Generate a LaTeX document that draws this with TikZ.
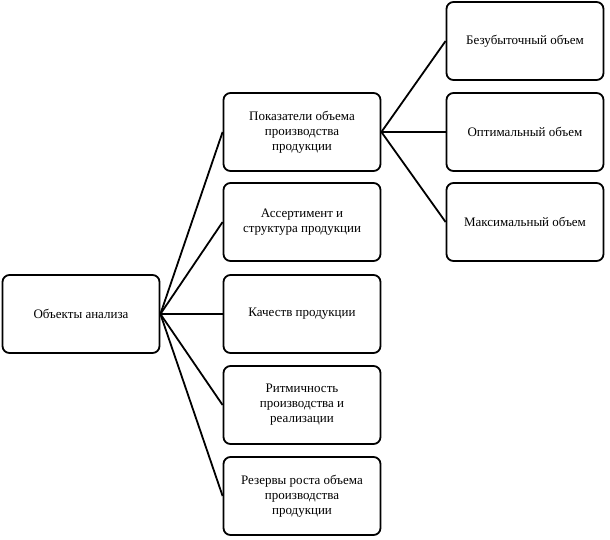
\documentclass[tikz,border=0pt]{standalone}
\usepackage{fontspec}
\setmainfont{Liberation Serif}
\begin{document}
\begin{tikzpicture}[x=1pt,y=-1pt,
  box/.style={draw,line width=1.8pt,rounded corners=7pt,minimum width=157pt,minimum height=78pt,align=center,font=\fontsize{13}{15}\selectfont,inner sep=2pt},
  link/.style={line width=1.8pt}]
\useasboundingbox (0,0) rectangle (610,539);
\node[box] (a) at (81,314) {Объекты анализа};
\node[box] (m1) at (302,132) {Показатели объема\\производства\\продукции};
\node[box] (m2) at (302,222) {Ассертимент и\\структура продукции};
\node[box] (m3) at (302,314) {Качеств продукции};
\node[box] (m4) at (302,405) {Ритмичность\\производства и\\реализации};
\node[box] (m5) at (302,496) {Резервы роста объема\\производства\\продукции};
\node[box] (r1) at (525,41) {Безубыточный объем};
\node[box] (r2) at (525,132) {Оптимальный объем};
\node[box] (r3) at (525,222) {Максимальный объем};
\foreach \m in {m1,m2,m3,m4,m5} \draw[link] (a.east) -- (\m.west);
\foreach \r in {r1,r2,r3} \draw[link] (m1.east) -- (\r.west);
\end{tikzpicture}
\end{document}
